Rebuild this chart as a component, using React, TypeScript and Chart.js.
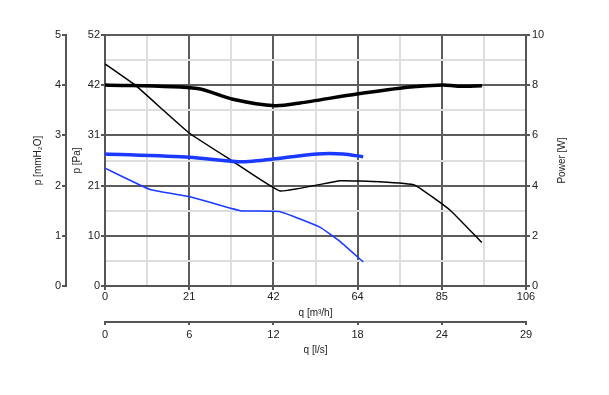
import { useEffect, useRef } from 'react';
import { Chart, registerables } from 'chart.js';

Chart.register(...registerables);

// ---- axis ranges & tick labels ----
const FLOW_MAX = 106; // m³/h
const FLOW_LS_MAX = 106 / 3.6; // l/s
const PA_MAX = 52;
const MM_MAX = 5;
const POWER_MAX = 10;

const flowTickLabels = ['0', '21', '42', '64', '85', '106'];
const flowLsTickLabels = ['0', '6', '12', '18', '24', '29'];
const paTickLabels = ['0', '10', '21', '31', '42', '52'];
const mmTickLabels = ['0', '1', '2', '3', '4', '5'];
const powerTickLabels = ['0', '2', '4', '6', '8', '10'];

// ---- series (q in m³/h) ----
const pressureBlackQ = [0, 7.6, 21.2, 31.7, 44.1, 59.2, 69.2, 78.0, 86.9, 94.9];
const pressureBlackPa = [46.0, 41.6, 31.7, 26.1, 19.7, 21.8, 21.6, 20.9, 15.7, 9.0];

const powerBlackQ = [0, 23.2, 32.2, 42.8, 49.1, 63.4, 76.8, 85.1, 88.9, 94.9];
const powerBlackW = [8.01, 7.87, 7.44, 7.18, 7.29, 7.65, 7.93, 8.01, 7.96, 7.98];

const pressureBlueQ = [0, 11.3, 21.4, 34.0, 44.1, 54.1, 59.2, 65.0];
const pressureBluePa = [24.4, 20.0, 18.5, 15.6, 15.4, 12.2, 9.2, 5.0];

const powerBlueQ = [0, 21.4, 34.0, 44.1, 53.4, 59.9, 65.0];
const powerBlueW = [5.26, 5.13, 4.95, 5.09, 5.26, 5.26, 5.15];

const BLUE = '#1a3aff';
const BLACK = '#000000';
const MAJOR = '#5c5c5c';
const MINOR = '#dedede';
const AXIS = '#555555';
const TEXT = '#222222';
const FONT = 'Liberation Sans, Arial, sans-serif';

const pts = (xs: number[], ys: number[]) => xs.map((x, i) => ({ x, y: ys[i] }));

const makeTicks = (max: number, n: number) => (scale: any) => {
  scale.ticks = Array.from({ length: n + 1 }, (_, i) => ({ value: (i * max) / n }));
};

const tickFont = { family: FONT, size: 11 };
const titleFont = { family: FONT, size: 10 };

const sideTitle = {
  id: 'sideTitle',
  afterDraw(chart: any) {
    const s = chart.scales.power;
    if (!s) return;
    const ctx = chart.ctx;
    ctx.save();
    ctx.font = `10px ${FONT}`;
    ctx.fillStyle = TEXT;
    ctx.textAlign = 'center';
    ctx.textBaseline = 'middle';
    ctx.translate(s.right - 9, (chart.chartArea.top + chart.chartArea.bottom) / 2);
    ctx.rotate(-Math.PI / 2);
    ctx.fillText('Power [W]', 0, 0);
    ctx.restore();
  },
};

export default function App() {
  const ref = useRef<HTMLCanvasElement>(null);
  useEffect(() => {
    document.body.style.margin = '0';
    const chart = new Chart(ref.current as HTMLCanvasElement, {
      type: 'line',
      data: {
        datasets: [
          { data: pts(powerBlackQ, powerBlackW), yAxisID: 'power', borderColor: BLACK, borderWidth: 3.5, tension: 0.25 },
          { data: pts(powerBlueQ, powerBlueW), yAxisID: 'power', borderColor: BLUE, borderWidth: 3.5, tension: 0.25 },
          { data: pts(pressureBlackQ, pressureBlackPa), yAxisID: 'pa', borderColor: BLACK, borderWidth: 1.5, tension: 0.1 },
          { data: pts(pressureBlueQ, pressureBluePa), yAxisID: 'pa', borderColor: BLUE, borderWidth: 1.5, tension: 0.1 },
        ] as any,
      },
      options: {
        responsive: false,
        animation: false,
        elements: { point: { radius: 0 } },
        layout: { padding: { top: 35, left: 31, right: 38, bottom: 37 } },
        plugins: { legend: { display: false }, tooltip: { enabled: false } },
        scales: {
          x: {
            type: 'linear',
            position: 'bottom',
            weight: 0,
            min: 0,
            max: FLOW_MAX,
            afterBuildTicks: makeTicks(FLOW_MAX, 10),
            afterFit: (s: any) => { s.height = 36; },
            ticks: {
              autoSkip: false,
              maxRotation: 0,
              padding: 0,
              color: TEXT,
              font: tickFont,
              callback: (_v: any, i: number) => (i % 2 === 0 ? flowTickLabels[i / 2] : ''),
            },
            grid: {
              color: (c: any) => (c.index % 2 === 0 ? MAJOR : MINOR),
              lineWidth: 2,
              tickLength: 4,
              tickColor: (c: any) => (c.index % 2 === 0 ? AXIS : 'rgba(0,0,0,0)'),
            },
            border: { display: true, color: AXIS, width: 2 },
            title: { display: true, text: 'q [m³/h]', color: TEXT, font: titleFont, padding: { top: 0, bottom: 3 } },
          },
          xls: {
            type: 'linear',
            position: 'bottom',
            weight: 1,
            min: 0,
            max: FLOW_LS_MAX,
            afterBuildTicks: makeTicks(FLOW_LS_MAX, 5),
            afterFit: (s: any) => { s.height = 36; },
            ticks: {
              autoSkip: false,
              maxRotation: 0,
              padding: 3,
              color: TEXT,
              font: tickFont,
              callback: (_v: any, i: number) => flowLsTickLabels[i],
            },
            grid: { drawOnChartArea: false, tickLength: 3, tickColor: AXIS, lineWidth: 2 },
            border: { display: true, color: AXIS, width: 2 },
            title: { display: true, text: 'q [l/s]', color: TEXT, font: titleFont, padding: { top: 0, bottom: 2 } },
          },
          pa: {
            type: 'linear',
            position: 'left',
            weight: 0,
            min: 0,
            max: PA_MAX,
            afterBuildTicks: makeTicks(PA_MAX, 10),
            afterFit: (s: any) => { s.width = 39; },
            ticks: {
              autoSkip: false,
              padding: 1,
              color: TEXT,
              font: tickFont,
              callback: (_v: any, i: number) => (i % 2 === 0 ? paTickLabels[i / 2] : ''),
            },
            grid: {
              color: (c: any) => (c.index % 2 === 0 ? MAJOR : MINOR),
              lineWidth: 2,
              tickLength: 4,
              tickColor: (c: any) => (c.index % 2 === 0 ? AXIS : 'rgba(0,0,0,0)'),
            },
            border: { display: true, color: AXIS, width: 2 },
            title: { display: true, text: 'p [Pa]', color: TEXT, font: titleFont, padding: { top: 5, bottom: 0 } },
          },
          mm: {
            type: 'linear',
            position: 'left',
            weight: 1,
            min: 0,
            max: MM_MAX,
            afterBuildTicks: makeTicks(MM_MAX, 5),
            afterFit: (s: any) => { s.width = 35; },
            ticks: {
              autoSkip: false,
              padding: 1,
              color: TEXT,
              font: tickFont,
              callback: (_v: any, i: number) => mmTickLabels[i],
            },
            grid: { drawOnChartArea: false, tickLength: 4, tickColor: AXIS, lineWidth: 2 },
            border: { display: true, color: AXIS, width: 2 },
            title: { display: true, text: 'p [mmH₂O]', color: TEXT, font: titleFont, padding: { top: 1, bottom: 0 } },
          },
          power: {
            type: 'linear',
            position: 'right',
            min: 0,
            max: POWER_MAX,
            afterBuildTicks: makeTicks(POWER_MAX, 5),
            afterFit: (s: any) => { s.width = 45; },
            ticks: {
              autoSkip: false,
              padding: 2,
              color: TEXT,
              font: tickFont,
              callback: (_v: any, i: number) => powerTickLabels[i],
            },
            grid: { drawOnChartArea: false, tickLength: 4, tickColor: AXIS, lineWidth: 2 },
            border: { display: true, color: AXIS, width: 2 },
            title: { display: false },
          },
        },
      } as any,
      plugins: [sideTitle],
    });
    return () => chart.destroy();
  }, []);
  return (
    <div style={{ width: 609, height: 395 }}>
      <canvas ref={ref} width={609} height={395} />
    </div>
  );
}
